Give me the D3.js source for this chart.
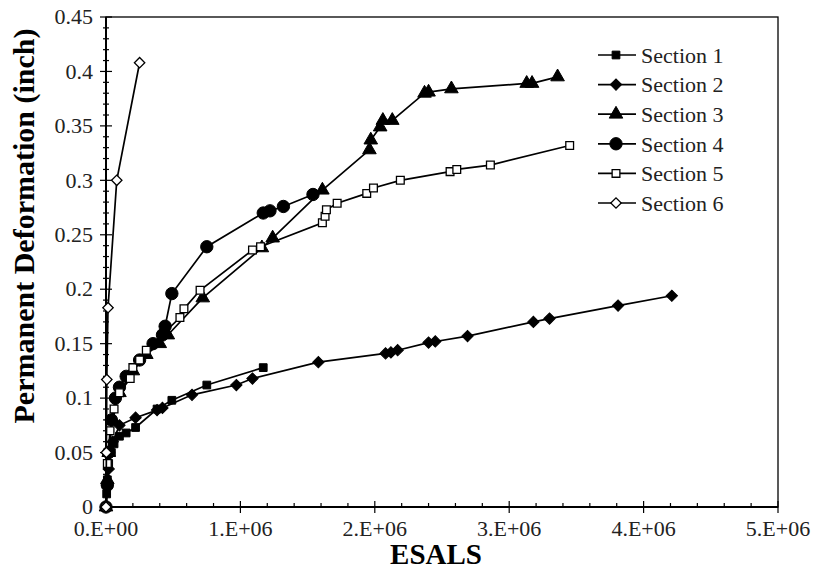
<!DOCTYPE html>
<html>
<head>
<meta charset="utf-8">
<script src="https://cdn.jsdelivr.net/npm/d3@7"></script>
<style>
  body { margin: 0; background: #fff; }
  svg { display: block; font-family: "Liberation Serif", "Times New Roman", serif; }
</style>
</head>
<body>
<svg id="chart" width="817" height="572"></svg>
<script>
// ESALS (x) and permanent deformation in inches (y)
const sec1X = [0, 5e3, 1e4, 2e4, 4e4, 6e4, 1e5, 1.5e5, 2.2e5, 3.8e5, 4.9e5, 7.5e5, 1.17e6];
const sec1Y = [0, 0.012, 0.025, 0.04, 0.05, 0.058, 0.065, 0.068, 0.073, 0.09, 0.098, 0.112, 0.128];

const sec2X = [0, 1e4, 2e4, 5e4, 1e5, 2.2e5, 3.8e5, 4.2e5, 6.4e5, 9.7e5, 1.09e6, 1.58e6, 2.08e6, 2.12e6, 2.17e6, 2.4e6, 2.45e6, 2.69e6, 3.18e6, 3.3e6, 3.81e6, 4.21e6];
const sec2Y = [0, 0.02, 0.035, 0.06, 0.075, 0.082, 0.089, 0.091, 0.103, 0.112, 0.118, 0.133, 0.141, 0.142, 0.144, 0.151, 0.152, 0.157, 0.17, 0.173, 0.185, 0.194];

const sec3X = [0, 1e4, 2e4, 5e4, 1e5, 2e5, 3e5, 4e5, 4.6e5, 7.2e5, 1.16e6, 1.24e6, 1.61e6, 1.96e6, 1.97e6, 2.04e6, 2.06e6, 2.13e6, 2.37e6, 2.4e6, 2.57e6, 3.13e6, 3.17e6, 3.36e6];
const sec3Y = [0, 0.025, 0.05, 0.08, 0.105, 0.125, 0.14, 0.15, 0.158, 0.192, 0.238, 0.247, 0.291, 0.328, 0.337, 0.349, 0.355, 0.355, 0.38, 0.381, 0.384, 0.389, 0.389, 0.395];

const sec4X = [0, 1e4, 2e4, 4e4, 7e4, 1e5, 1.5e5, 2.5e5, 3.5e5, 4.2e5, 4.4e5, 4.9e5, 7.5e5, 1.17e6, 1.22e6, 1.32e6, 1.54e6];
const sec4Y = [0, 0.02, 0.05, 0.08, 0.1, 0.11, 0.12, 0.135, 0.15, 0.158, 0.166, 0.196, 0.239, 0.27, 0.272, 0.276, 0.287];

const sec5X = [0, 1e4, 3e4, 6e4, 1e5, 1.8e5, 2e5, 2.5e5, 3e5, 5.5e5, 5.8e5, 7e5, 1.09e6, 1.15e6, 1.61e6, 1.63e6, 1.64e6, 1.72e6, 1.94e6, 1.99e6, 2.19e6, 2.56e6, 2.61e6, 2.86e6, 3.45e6];
const sec5Y = [0, 0.04, 0.07, 0.09, 0.105, 0.118, 0.128, 0.135, 0.144, 0.174, 0.182, 0.199, 0.236, 0.239, 0.261, 0.267, 0.273, 0.279, 0.288, 0.293, 0.3, 0.308, 0.31, 0.314, 0.332];

const sec6X = [0, 3e3, 6e3, 1.5e4, 8e4, 2.5e5];
const sec6Y = [0, 0.05, 0.117, 0.183, 0.3, 0.408];

const seriesNames = ["Section 1", "Section 2", "Section 3", "Section 4", "Section 5", "Section 6"];
const xTicks = [0, 1e6, 2e6, 3e6, 4e6, 5e6];
const xTickLabels = ["0.E+00", "1.E+06", "2.E+06", "3.E+06", "4.E+06", "5.E+06"];
const yTicks = [0, 0.05, 0.1, 0.15, 0.2, 0.25, 0.3, 0.35, 0.4, 0.45];

const allX = [sec1X, sec2X, sec3X, sec4X, sec5X, sec6X];
const allY = [sec1Y, sec2Y, sec3Y, sec4Y, sec5Y, sec6Y];

// marker style per series: symbol, size, rotation, filled
const markers = [
  { type: d3.symbolSquare, size: 60, rot: 0, fill: true },
  { type: d3.symbolSquare, size: 64, rot: 45, fill: true },
  { type: d3.symbolTriangle, size: 80, rot: 0, fill: true },
  { type: d3.symbolCircle, size: 120, rot: 0, fill: true },
  { type: d3.symbolSquare, size: 60, rot: 0, fill: false },
  { type: d3.symbolSquare, size: 54, rot: 45, fill: false }
];

const svg = d3.select("#chart");
const plotLeft = 106, plotRight = 778, plotTop = 17, plotBottom = 507;

const x = d3.scaleLinear().domain([0, 5e6]).range([plotLeft, plotRight]);
const y = d3.scaleLinear().domain([0, 0.45]).range([plotBottom, plotTop]);

// frame
svg.append("rect")
  .attr("x", plotLeft).attr("y", plotTop)
  .attr("width", plotRight - plotLeft).attr("height", plotBottom - plotTop)
  .attr("fill", "none").attr("stroke", "#000").attr("stroke-width", 1.3);

// y axis
const yAxis = svg.append("g").attr("transform", `translate(${plotLeft},0)`);
yAxis.append("line").attr("y1", plotTop).attr("y2", plotBottom).attr("stroke", "#000").attr("stroke-width", 2);
d3.range(0, 46).forEach(i => {
  const v = i / 100;
  const major = i % 5 === 0;
  yAxis.append("line")
    .attr("x1", major ? -6 : -3).attr("x2", major ? 6 : 3)
    .attr("y1", y(v)).attr("y2", y(v))
    .attr("stroke", "#000").attr("stroke-width", 1.2);
});
yAxis.selectAll("text.tick")
  .data(yTicks)
  .enter().append("text")
  .attr("class", "tick")
  .attr("x", -13)
  .attr("y", d => y(d))
  .attr("dy", "0.33em")
  .attr("text-anchor", "end")
  .attr("font-size", 22)
  .attr("fill", "#222")
  .text(d => String(+d.toFixed(2)));

// x axis
const xAxis = svg.append("g").attr("transform", `translate(0,${plotBottom})`);
xAxis.append("line").attr("x1", plotLeft).attr("x2", plotRight).attr("stroke", "#000").attr("stroke-width", 2);
d3.range(0, 26).forEach(i => {
  const v = i * 2e5;
  const major = i % 5 === 0;
  xAxis.append("line")
    .attr("x1", x(v)).attr("x2", x(v))
    .attr("y1", major ? -6 : -4).attr("y2", major ? 6 : 0)
    .attr("stroke", "#000").attr("stroke-width", 1.2);
});
xAxis.selectAll("text.tick")
  .data(xTicks)
  .enter().append("text")
  .attr("class", "tick")
  .attr("x", d => x(d))
  .attr("y", 29)
  .attr("text-anchor", "middle")
  .attr("font-size", 22)
  .attr("fill", "#222")
  .text((d, i) => xTickLabels[i]);

// axis titles
svg.append("text")
  .attr("x", 436).attr("y", 564)
  .attr("text-anchor", "middle")
  .attr("font-size", 29).attr("font-weight", "bold")
  .text("ESALS");

svg.append("text")
  .attr("transform", "translate(34,226) rotate(-90)")
  .attr("text-anchor", "middle")
  .attr("font-size", 30).attr("font-weight", "bold")
  .text("Permanent Deformation (inch)");

// series
const line = d3.line().x(d => x(d[0])).y(d => y(d[1]));

function markerPath(m) {
  return d3.symbol().type(m.type).size(m.size)();
}

allX.forEach((xs, s) => {
  const pts = xs.map((v, i) => [v, allY[s][i]]);
  const g = svg.append("g").attr("class", "series");
  g.append("path")
    .attr("d", line(pts))
    .attr("fill", "none")
    .attr("stroke", "#000")
    .attr("stroke-width", 1.7);
  const m = markers[s];
  g.selectAll("path.mark")
    .data(pts)
    .enter().append("path")
    .attr("class", "mark")
    .attr("d", markerPath(m))
    .attr("transform", d => `translate(${x(d[0])},${y(d[1])}) rotate(${m.rot})`)
    .attr("fill", m.fill ? "#000" : "#fff")
    .attr("stroke", "#000")
    .attr("stroke-width", m.fill ? 1 : 1.3);
});

// legend
const legend = svg.append("g");
seriesNames.forEach((name, s) => {
  const ly = 55 + s * 29.6;
  const m = markers[s];
  legend.append("line")
    .attr("x1", 598).attr("x2", 636)
    .attr("y1", ly).attr("y2", ly)
    .attr("stroke", "#000").attr("stroke-width", 1.7);
  legend.append("path")
    .attr("d", markerPath(m))
    .attr("transform", `translate(616,${ly}) rotate(${m.rot})`)
    .attr("fill", m.fill ? "#000" : "#fff")
    .attr("stroke", "#000")
    .attr("stroke-width", m.fill ? 1 : 1.3);
  legend.append("text")
    .attr("x", 641).attr("y", ly)
    .attr("dy", "0.35em")
    .attr("font-size", 22)
    .attr("fill", "#222")
    .text(name);
});
</script>
</body>
</html>
